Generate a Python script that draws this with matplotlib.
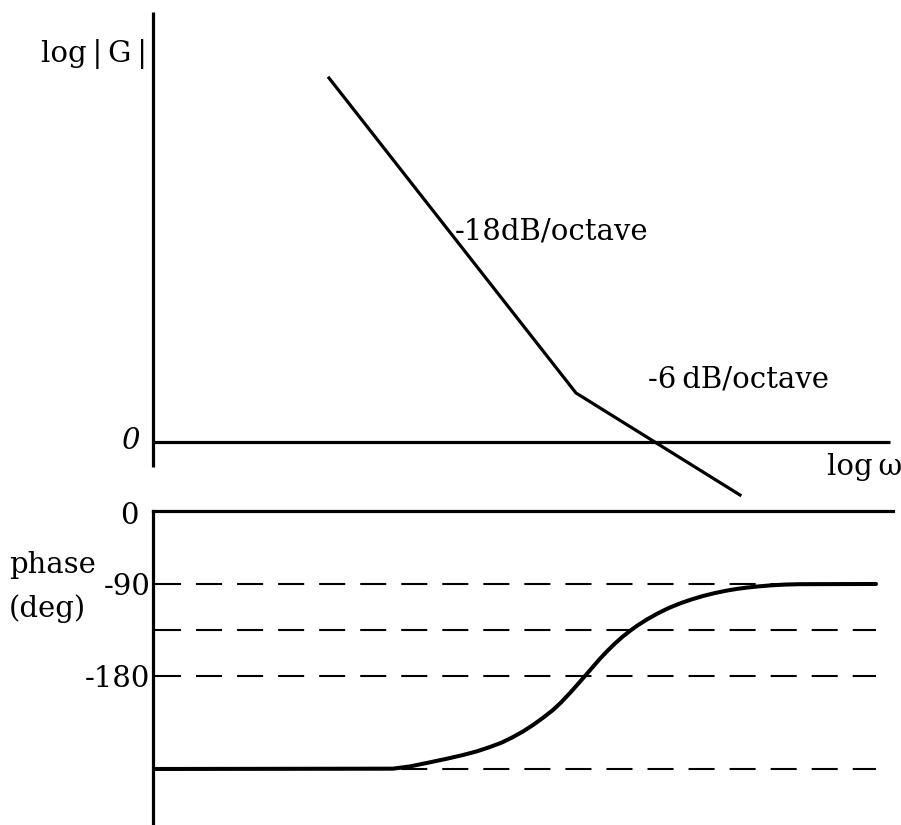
import matplotlib
matplotlib.use("Agg")
import matplotlib.pyplot as plt

# ---- data (arbitrary schematic units) ----
# magnitude asymptotes: x = log(omega), y = log|G|
mag_x = [1.76, 4.23, 5.87]
mag_y = [3.64, 0.49, -0.53]

# phase curve (deg)
phase_x = [0.00, 2.40, 2.57, 2.77, 2.94, 3.10, 3.24, 3.37, 3.49, 3.60, 3.70,
           3.80, 3.90, 4.00, 4.08, 4.17, 4.25, 4.32, 4.40, 4.47, 4.55, 4.62,
           4.69, 4.77, 4.84, 4.94, 5.04, 5.15, 5.27, 5.38, 5.50, 5.62, 5.74,
           5.84, 5.94, 6.05, 6.17, 6.32, 6.47, 7.23]
phase_y = [-270, -269.7, -267.5, -263.5, -260, -256.4, -252.8, -248.6, -244.2,
           -238.9, -233.5, -227.2, -220.2, -212.6, -205.3, -196.0, -187.3,
           -179.5, -170.5, -162.7, -154.5, -147.9, -141.8, -135.6, -130.7,
           -124.5, -119.0, -113.7, -108.9, -105.2, -101.7, -98.8, -96.4, -94.8,
           -93.5, -92.4, -91.4, -90.6, -90.2, -90]

phase_levels = [-90, -135, -180, -270]
phase_ticks = [-90, -180]
phase_ticklabels = ["-90", "-180"]

W, H = 901, 825
FONT = "DejaVu Serif"
FS = 21

fig = plt.figure(figsize=(W / 100, H / 100), dpi=100)
fig.patch.set_facecolor("white")


def fx(px):
    return px / W


def fy(py):
    return 1 - py / H


# ---- top (magnitude) axes ----
ax1 = fig.add_axes([fx(153), fy(500), fx(893) - fx(153), fy(12) - fy(500)])
ax1.set_xlim(0, 7.40)
ax1.set_ylim(-0.58, 4.30)
ax1.axis("off")
lw_axis = 2.3
ax1.plot([0, 0], [-0.25, 4.30], color="black", lw=lw_axis, solid_capstyle="butt", clip_on=False)
ax1.plot([0, 7.37], [0, 0], color="black", lw=lw_axis, solid_capstyle="butt", clip_on=False)
ax1.plot(mag_x, mag_y, color="black", lw=2.3, solid_joinstyle="miter", clip_on=False)

# ---- bottom (phase) axes ----
ax2 = fig.add_axes([fx(153), fy(825), fx(893) - fx(153), fy(511) - fy(825)])
ax2.set_xlim(0, 7.40)
ax2.set_ylim(-324.5, -19)
for s in ["right", "bottom"]:
    ax2.spines[s].set_visible(False)
for s in ["left", "top"]:
    ax2.spines[s].set_linewidth(lw_axis)
ax2.set_xticks([])
ax2.set_yticks(phase_ticks)
ax2.set_yticklabels(phase_ticklabels, fontfamily=FONT, fontsize=FS)
ax2.tick_params(axis="y", length=0, pad=2)
ax2.hlines(phase_levels, 0.02, 7.23, colors="black", lw=1.5,
           linestyles=[(0, (12.5, 7.2))])
ax2.plot(phase_x, phase_y, color="black", lw=2.9, solid_capstyle="round",
         solid_joinstyle="round")

# ---- texts ----
kw = dict(fontfamily=FONT, fontsize=FS, color="black")
fig.text(fx(41), fy(62), "log\u2009|\u2009G\u2009|", ha="left", va="baseline", **kw)
fig.text(fx(455), fy(240), "-18dB/octave", ha="left", va="baseline", **kw)
fig.text(fx(648), fy(387), "-6\u2009dB/octave", ha="left", va="baseline", **kw)
fig.text(fx(827), fy(475), "log\u2009\u03c9", ha="left", va="baseline", **kw)
fig.text(fx(130), fy(449), "0", ha="center", va="baseline", fontstyle="italic", **kw)
fig.text(fx(129), fy(524), "0", ha="center", va="baseline", **kw)
fig.text(fx(9), fy(573), "phase", ha="left", va="baseline", **kw)
fig.text(fx(9), fy(617), "(deg)", ha="left", va="baseline", **kw)

fig.savefig("out.png", dpi=100, facecolor="white")
